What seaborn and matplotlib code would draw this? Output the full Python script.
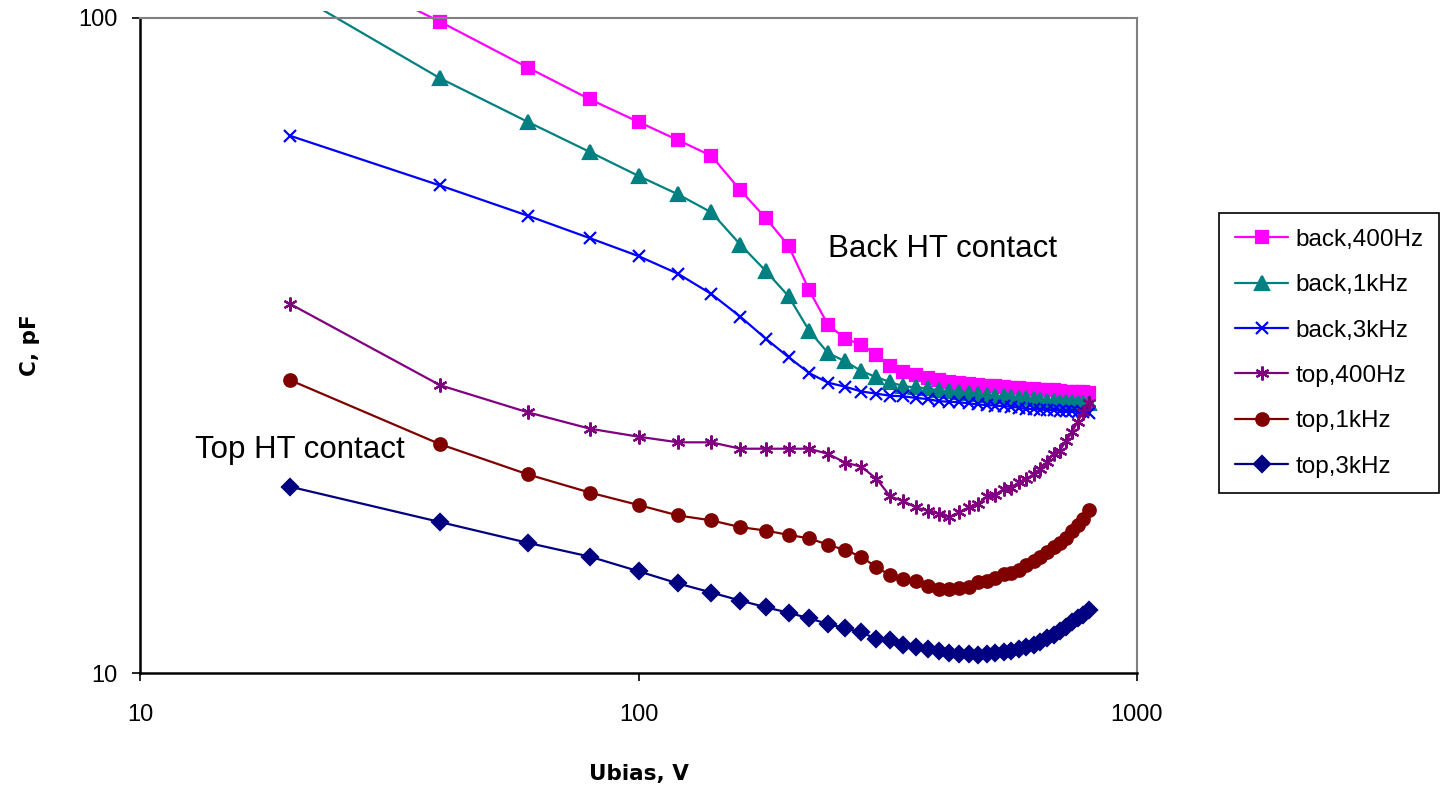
import matplotlib
matplotlib.use("Agg")
import matplotlib.pyplot as plt
import seaborn as sns
import pandas as pd
from matplotlib.ticker import NullLocator
from matplotlib.transforms import Bbox, TransformedBbox

# ---------------- data ----------------
ubias = [20, 40, 60, 80, 100, 120, 140, 160, 180, 200,
         220, 240, 260, 280, 300, 320, 340, 360, 380, 400,
         420, 440, 460, 480, 500, 520, 540, 560, 580, 600,
         620, 640, 660, 680, 700, 720, 740, 760, 780, 800]

back_400 = [128, 98.7, 84.0, 75.1, 69.4, 65.1, 61.6, 54.6, 49.5, 44.9,
            38.4, 34.0, 32.4, 31.7, 30.6, 29.4, 28.8, 28.5, 28.2, 28.0,
            27.85, 27.7, 27.6, 27.5, 27.45, 27.4, 27.3, 27.25, 27.2, 27.15,
            27.1, 27.05, 27.0, 27.0, 26.95, 26.9, 26.9, 26.85, 26.85, 26.8]
back_1k = [110, 80.9, 69.4, 62.4, 57.4, 53.8, 50.5, 45.1, 41.1, 37.6,
           33.3, 30.8, 29.9, 28.9, 28.3, 27.8, 27.4, 27.3, 27.2, 27.0,
           26.95, 26.9, 26.8, 26.7, 26.6, 26.5, 26.45, 26.4, 26.3, 26.25,
           26.2, 26.15, 26.0, 26.0, 25.95, 25.9, 25.9, 25.85, 25.85, 25.8]
back_3k = [66.1, 55.5, 49.9, 46.1, 43.3, 40.7, 37.9, 35.0, 32.4, 30.35,
           28.7, 27.75, 27.35, 26.9, 26.7, 26.5, 26.45, 26.3, 26.2, 26.0,
           25.95, 25.9, 25.8, 25.7, 25.65, 25.6, 25.55, 25.5, 25.4, 25.3,
           25.3, 25.25, 25.2, 25.2, 25.15, 25.1, 25.1, 25.05, 25.0, 24.9]
top_400 = [36.6, 27.5, 25.0, 23.6, 22.95, 22.5, 22.5, 22.0, 22.0, 22.0,
           22.0, 21.6, 20.95, 20.65, 19.8, 18.6, 18.3, 17.9, 17.7, 17.5,
           17.3, 17.6, 17.9, 18.1, 18.6, 18.7, 19.1, 19.15, 19.55, 19.8,
           20.1, 20.5, 21.0, 21.6, 21.85, 22.6, 23.3, 24.2, 25.05, 25.8]
top_1k = [28.0, 22.35, 20.1, 18.85, 18.05, 17.4, 17.1, 16.7, 16.5, 16.25,
          16.05, 15.7, 15.4, 15.05, 14.5, 14.1, 13.9, 13.8, 13.6, 13.45,
          13.45, 13.5, 13.55, 13.75, 13.8, 13.95, 14.15, 14.2, 14.35, 14.6,
          14.8, 15.05, 15.3, 15.55, 15.8, 16.1, 16.45, 16.8, 17.2, 17.75]
top_3k = [19.25, 17.0, 15.8, 15.05, 14.3, 13.7, 13.27, 12.9, 12.6, 12.36,
          12.12, 11.88, 11.7, 11.54, 11.27, 11.23, 11.03, 10.97, 10.88, 10.8,
          10.72, 10.68, 10.68, 10.65, 10.68, 10.72, 10.75, 10.8, 10.88, 10.97,
          11.03, 11.16, 11.3, 11.43, 11.59, 11.77, 11.96, 12.12, 12.26, 12.48]

series_names = ["back,400Hz", "back,1kHz", "back,3kHz",
                "top,400Hz", "top,1kHz", "top,3kHz"]
series_values = [back_400, back_1k, back_3k, top_400, top_1k, top_3k]

x_ticks = [10, 100, 1000]
x_tick_labels = ["10", "100", "1000"]
y_ticks = [10, 100]
y_tick_labels = ["10", "100"]

# ---------------- styles ----------------
colors = ["#FF00FF", "#008080", "#0000FF", "#800080", "#800000", "#000080"]
markers = ["s", "^", "x", (6, 2, 0), "o", "D"]
msizes = [9, 10, 8, 10, 9, 8]

sns.set_style("white")
plt.rcParams["font.family"] = ["Liberation Sans", "DejaVu Sans"]
plt.rcParams["text.color"] = "black"
plt.rcParams["axes.labelcolor"] = "black"
plt.rcParams["xtick.color"] = "black"
plt.rcParams["ytick.color"] = "black"

fig = plt.figure(figsize=(14.41, 7.88), dpi=100)
W, H = 1441, 788
L, R, T, B = 140, 1137, 18, 673
ax = fig.add_axes([L / W, 1 - B / H, (R - L) / W, (B - T) / H])

df = pd.DataFrame({"Ubias": ubias})
for name, vals in zip(series_names, series_values):
    df[name] = vals

for name, c, m, ms in zip(series_names, colors, markers, msizes):
    sns.lineplot(data=df, x="Ubias", y=name, ax=ax, color=c, marker=m,
                 markersize=ms, markeredgecolor=c, markerfacecolor=c,
                 markeredgewidth=1.6, linewidth=1.6, label=name,
                 estimator=None, sort=False)

ax.set_xscale("log")
ax.set_yscale("log")
ax.set_xlim(10, 1000)
ax.set_ylim(10, 100)
ax.set_xticks(x_ticks)
ax.set_xticklabels(x_tick_labels)
ax.set_yticks(y_ticks)
ax.set_yticklabels(y_tick_labels)
ax.xaxis.set_minor_locator(NullLocator())
ax.yaxis.set_minor_locator(NullLocator())
ax.tick_params(axis="both", which="major", direction="out", length=6,
               width=1.2, color="black", labelsize=17, pad=10,
               bottom=True, left=True, labelcolor="black")
ax.tick_params(axis="x", pad=16)

for side in ["left", "bottom"]:
    ax.spines[side].set_color("black")
    ax.spines[side].set_linewidth(1.8)
for side in ["top", "right"]:
    ax.spines[side].set_color("#808080")
    ax.spines[side].set_linewidth(1.5)

# let lines run a few pixels above the top border, like the original
clip = TransformedBbox(Bbox([[0, 0], [1, 1.011]]), ax.transAxes)
for ln in ax.get_lines():
    ln.set_clip_box(clip)

ax.set_xlabel("Ubias, V", fontsize=15.5, fontweight="bold",
              family="DejaVu Sans", labelpad=28)
ax.set_ylabel("C, pF", fontsize=15.5, fontweight="bold",
              family="DejaVu Sans")
ax.yaxis.set_label_coords(-0.100, 0.5)

ax.text(240, 43.2, "Back HT contact", fontsize=22.5, ha="left", va="baseline")
ax.text(12.9, 21.3, "Top HT contact", fontsize=22.5, ha="left", va="baseline")

leg = ax.legend(loc="upper left", bbox_to_anchor=(1219 / W, 1 - 213 / H),
                bbox_transform=fig.transFigure, frameon=True, fancybox=False,
                edgecolor="black", framealpha=1, fontsize=17.5,
                handlelength=2.2, handletextpad=0.3, labelspacing=0.96,
                borderpad=0.65, borderaxespad=0)
leg.get_frame().set_linewidth(1.2)

fig.savefig("out.png", dpi=100, facecolor="white")
